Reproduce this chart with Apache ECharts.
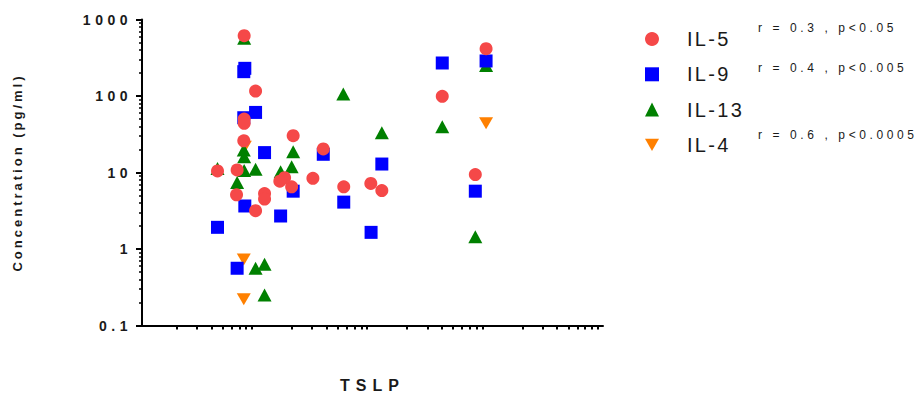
<!DOCTYPE html>
<html>
<head>
<meta charset="utf-8">
<title>TSLP vs cytokine concentration</title>
<script src="https://cdn.jsdelivr.net/npm/echarts@6/dist/echarts.min.js"></script>
<style>
  html, body { margin: 0; padding: 0; background: #fff; }
  #chart { width: 920px; height: 399px; }
</style>
</head>
<body>
<div id="chart"></div>
<script>
// Cytokine concentration (pg/ml) against TSLP, one [TSLP, value] pair per sample
const il5 = [
  [7.7, 614], [9.67, 116], [7.7, 50], [7.7, 44], [7.64, 26], [20.5, 30.3],
  [37.4, 20.3], [6.69, 10.8], [4.52, 10.5], [6.61, 5.1], [11.57, 5.3],
  [11.57, 4.5], [9.67, 3.17], [19.88, 6.5], [17.27, 8.55], [15.7, 7.7],
  [30.4, 8.4], [56.3, 6.5], [96.7, 7.2], [120.5, 5.8], [403, 99],
  [780, 9.4], [967, 415]
];
const il9 = [
  [7.8, 230], [7.64, 208], [9.67, 61], [7.64, 52], [11.57, 18.2],
  [37.4, 17.3], [20.5, 5.7], [15.95, 2.7], [7.8, 3.65], [4.52, 1.92],
  [6.69, 0.56], [56.3, 4.1], [97.2, 1.65], [120.5, 12.9], [403, 270],
  [780, 5.7], [967, 287]
];
const il13 = [
  [7.7, 570], [7.64, 19.7], [7.7, 16.1], [20.5, 18.7], [19.88, 11.9],
  [15.95, 10.2], [9.67, 11.0], [7.7, 10.6], [4.52, 11.3], [6.69, 7.4],
  [9.67, 0.56], [11.57, 0.63], [11.57, 0.25], [55.8, 106], [120.5, 33],
  [403, 39.7], [780, 1.45], [967, 250]
];
const il4 = [
  [7.8, 21.7], [7.64, 0.73], [7.64, 0.22], [967, 44]
];

const seriesNames = ['IL-5', 'IL-9', 'IL-13', 'IL-4'];
const correlationNotes = ['r = 0.3 , p<0.05', 'r = 0.4 , p<0.005', 'r = 0.6 , p<0.0005'];
const yTickValues = [0.1, 1, 10, 100, 1000];

const FONT = "Arial, 'Liberation Sans', sans-serif";
const INK = '#1a1a1a';
const DOWN_TRIANGLE = 'path://M0,0L2,0L1,1.732Z';

// letter spacing per font size (px) applied to the SVG text after render
const spacingBySize = { 12: 3.6, 13: 3, 14: 4.5, 16: 6, 20: 2.3 };

const chart = echarts.init(document.getElementById('chart'), null, { renderer: 'svg' });

function scatter(name, data, color, symbol, size) {
  return {
    name: name,
    type: 'scatter',
    data: data,
    symbol: symbol,
    symbolSize: size,
    itemStyle: { color: color, opacity: 1 },
    emphasis: { disabled: true }
  };
}

chart.setOption({
  animation: false,
  backgroundColor: '#fff',
  textStyle: { fontFamily: FONT },
  grid: { left: 142, right: 317, top: 19.5, bottom: 73.5 },
  xAxis: {
    type: 'log',
    logBase: 10,
    min: 1,
    max: 10000,
    name: 'TSLP',
    nameLocation: 'middle',
    nameGap: 52,
    nameTextStyle: { fontSize: 16, fontWeight: 'bold', color: INK, fontFamily: FONT },
    axisLine: { lineStyle: { color: '#000', width: 2 } },
    axisTick: { show: false },
    minorTick: { show: true, splitNumber: 9, length: 4, lineStyle: { color: '#000', width: 2 } },
    axisLabel: { show: false },
    splitLine: { show: false },
    minorSplitLine: { show: false }
  },
  yAxis: {
    type: 'log',
    logBase: 10,
    min: 0.1,
    max: 1000,
    name: 'Concentration (pg/ml)',
    nameLocation: 'middle',
    nameRotate: 90,
    nameGap: 118,
    nameTextStyle: { fontSize: 13, fontWeight: 'bold', color: INK, fontFamily: FONT },
    axisLine: { lineStyle: { color: '#000', width: 2 } },
    axisTick: { show: true, length: 6, lineStyle: { color: '#000', width: 2 } },
    minorTick: { show: true, splitNumber: 9, length: 3, lineStyle: { color: '#000', width: 1.5 } },
    axisLabel: {
      margin: 10,
      fontSize: 14,
      fontWeight: 'bold',
      color: INK,
      fontFamily: FONT,
      formatter: function (v) {
        const hit = yTickValues.find(t => Math.abs(t - v) / t < 1e-6);
        return hit === undefined ? '' : String(hit);
      }
    },
    splitLine: { show: false },
    minorSplitLine: { show: false }
  },
  legend: {
    data: [
      { name: seriesNames[0], icon: 'circle' },
      { name: seriesNames[1], icon: 'rect' },
      { name: seriesNames[2], icon: 'triangle' },
      { name: seriesNames[3], icon: DOWN_TRIANGLE }
    ],
    orient: 'vertical',
    left: 640,
    top: 24,
    itemWidth: 14,
    itemHeight: 14,
    itemGap: 15.3,
    selectedMode: false,
    textStyle: { fontSize: 20, color: INK, fontFamily: FONT, padding: [0, 0, 0, 23] }
  },
  graphic: [
    { type: 'text', left: 758, top: 22, style: { text: correlationNotes[0], fontSize: 12, fill: INK, fontFamily: FONT } },
    { type: 'text', left: 758, top: 62, style: { text: correlationNotes[1], fontSize: 12, fill: INK, fontFamily: FONT } },
    { type: 'text', left: 758, top: 129, style: { text: correlationNotes[2], fontSize: 12, fill: INK, fontFamily: FONT } }
  ],
  // drawn bottom to top: later series sit above earlier ones
  series: [
    scatter(seriesNames[3], il4, '#FF8000', DOWN_TRIANGLE, [14, 12]),
    scatter(seriesNames[2], il13, '#008000', 'triangle', [14, 13]),
    scatter(seriesNames[1], il9, '#0000FF', 'rect', 13),
    scatter(seriesNames[0], il5, '#F54848', 'circle', 13)
  ]
});

function applyLetterSpacing() {
  document.querySelectorAll('#chart svg text').forEach(function (t) {
    const fs = Math.round(parseFloat(getComputedStyle(t).fontSize));
    const sp = spacingBySize[fs];
    if (sp) t.style.letterSpacing = sp + 'px';
  });
}
chart.on('finished', applyLetterSpacing);
applyLetterSpacing();
</script>
</body>
</html>
